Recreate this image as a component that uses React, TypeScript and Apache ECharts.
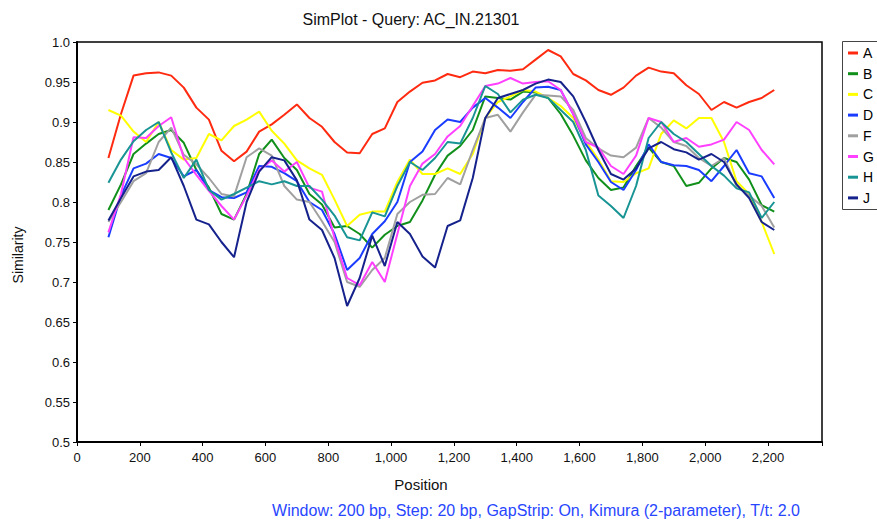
import React, { useEffect, useRef } from "react";
import * as echarts from "echarts";

// Window midpoints along the alignment (bp)
const positions = [
  100, 140, 180, 220, 260, 300, 340, 380, 420, 460,
  500, 540, 580, 620, 660, 700, 740, 780, 820, 860,
  900, 940, 980, 1020, 1060, 1100, 1140, 1180, 1220, 1260,
  1300, 1340, 1380, 1420, 1460, 1500, 1540, 1580, 1620, 1660,
  1700, 1740, 1780, 1820, 1860, 1900, 1940, 1980, 2020, 2060,
  2100, 2140, 2180, 2220,
];

const seriesNames = ["A", "B", "C", "D", "F", "G", "H", "J"];
const seriesColors = ["#ff2a10", "#10901a", "#ffff00", "#1a3cff", "#a0a0a0", "#ff40ff", "#189494", "#16228c"];

const simA = [
  0.855, 0.91, 0.958, 0.961, 0.962, 0.958, 0.943, 0.918, 0.903, 0.864,
  0.851, 0.863, 0.888, 0.897, 0.909, 0.922, 0.905, 0.894, 0.875, 0.862,
  0.861, 0.885, 0.892, 0.925, 0.938, 0.949, 0.952, 0.96, 0.956, 0.963,
  0.961, 0.965, 0.964, 0.966, 0.978, 0.99, 0.982, 0.96, 0.952, 0.94,
  0.934, 0.943, 0.958, 0.968, 0.963, 0.961, 0.946, 0.935, 0.915, 0.925,
  0.918, 0.925, 0.93, 0.94,
];
const simB = [
  0.79, 0.822, 0.86, 0.873, 0.885, 0.89, 0.874, 0.84, 0.818, 0.785,
  0.778, 0.81, 0.86, 0.878, 0.855, 0.84, 0.81, 0.797, 0.768, 0.77,
  0.76, 0.743, 0.759, 0.77, 0.775, 0.802, 0.834, 0.858, 0.87, 0.89,
  0.932, 0.93, 0.928, 0.938, 0.937, 0.93, 0.91, 0.883, 0.852, 0.83,
  0.815, 0.818, 0.845, 0.868, 0.85, 0.845, 0.82, 0.824, 0.842, 0.855,
  0.85, 0.828, 0.796, 0.788,
];
const simC = [
  0.915, 0.908, 0.888, 0.875, 0.9, 0.865, 0.853, 0.855, 0.885, 0.877,
  0.895, 0.903, 0.913, 0.889, 0.873, 0.852, 0.842, 0.834, 0.803, 0.77,
  0.784, 0.788, 0.788, 0.825, 0.853, 0.835, 0.835, 0.842, 0.835, 0.86,
  0.905, 0.925, 0.932, 0.94, 0.938, 0.93, 0.92, 0.905, 0.876, 0.853,
  0.826, 0.825, 0.836, 0.842, 0.885, 0.902, 0.892, 0.905, 0.905, 0.875,
  0.826, 0.81, 0.775, 0.735,
];
const simD = [
  0.756, 0.808, 0.842, 0.848, 0.86, 0.855, 0.832, 0.84, 0.815, 0.806,
  0.805, 0.812, 0.845, 0.844, 0.836, 0.826, 0.8, 0.79, 0.76, 0.715,
  0.73, 0.76, 0.776, 0.8, 0.85, 0.863, 0.89, 0.903, 0.9, 0.918,
  0.93, 0.918, 0.905, 0.925, 0.943, 0.944, 0.94, 0.91, 0.872, 0.85,
  0.825, 0.815, 0.84, 0.872, 0.85, 0.846, 0.845, 0.84, 0.826, 0.845,
  0.865, 0.836, 0.832, 0.805,
];
const simF = [
  0.775, 0.8, 0.826, 0.836, 0.875, 0.893, 0.859, 0.847, 0.83, 0.81,
  0.807, 0.856, 0.867, 0.858, 0.82, 0.803, 0.8, 0.776, 0.75, 0.7,
  0.694, 0.715, 0.73, 0.785, 0.8, 0.809, 0.81, 0.83, 0.822, 0.865,
  0.905, 0.909, 0.888, 0.912, 0.934, 0.933, 0.932, 0.915, 0.88, 0.867,
  0.858, 0.856, 0.868, 0.905, 0.893, 0.875, 0.87, 0.855, 0.845, 0.855,
  0.82, 0.808, 0.795, 0.768,
];
const simG = [
  0.762, 0.81, 0.881, 0.88, 0.895, 0.906, 0.855, 0.834, 0.814, 0.795,
  0.778, 0.808, 0.84, 0.852, 0.838, 0.85, 0.818, 0.813, 0.755, 0.705,
  0.696, 0.725, 0.7, 0.76, 0.82, 0.848, 0.86, 0.882, 0.895, 0.92,
  0.945, 0.948, 0.955, 0.948, 0.95, 0.951, 0.94, 0.91, 0.875, 0.868,
  0.845, 0.835, 0.858, 0.905, 0.9, 0.875, 0.88, 0.869, 0.872, 0.878,
  0.9, 0.89, 0.865, 0.847,
];
const simH = [
  0.824, 0.853, 0.876, 0.89, 0.9, 0.862, 0.83, 0.853, 0.815, 0.803,
  0.81, 0.818, 0.826, 0.822, 0.826, 0.82, 0.82, 0.803, 0.783, 0.756,
  0.752, 0.787, 0.782, 0.82, 0.85, 0.84, 0.855, 0.875, 0.873, 0.905,
  0.945, 0.935, 0.912, 0.928, 0.934, 0.93, 0.915, 0.9, 0.865, 0.808,
  0.795, 0.78, 0.82, 0.88, 0.9, 0.885, 0.875, 0.86, 0.845, 0.833,
  0.817, 0.812, 0.78, 0.8,
];
const simJ = [
  0.777, 0.805, 0.832, 0.838, 0.84, 0.856, 0.82, 0.778, 0.772, 0.75,
  0.731, 0.8, 0.838, 0.856, 0.852, 0.827, 0.778, 0.765, 0.73, 0.67,
  0.705, 0.758, 0.72, 0.775, 0.76, 0.732, 0.718, 0.77, 0.777, 0.83,
  0.905, 0.93, 0.935, 0.94, 0.948, 0.953, 0.95, 0.932, 0.9, 0.865,
  0.835, 0.828, 0.842, 0.867, 0.875, 0.866, 0.862, 0.853, 0.86, 0.85,
  0.822, 0.805, 0.775, 0.765,
];

const seriesValues = [simA, simB, simC, simD, simF, simG, simH, simJ];

const FONT = "'Liberation Sans', Arial, sans-serif";

function withThousands(v: number): string {
  return String(Math.round(v)).replace(/\B(?=(\d{3})+(?!\d))/g, ",");
}

export default function App() {
  const ref = useRef<HTMLDivElement>(null);

  useEffect(() => {
    if (!ref.current) return;
    const chart = echarts.init(ref.current, null, { renderer: "svg" });

    chart.setOption({
      animation: false,
      backgroundColor: "#ffffff",
      textStyle: { fontFamily: FONT },
      grid: {
        left: 77,
        top: 42,
        right: 55,
        bottom: 79,
        show: true,
        borderColor: "#000",
        borderWidth: 1.5,
        backgroundColor: "transparent",
      },
      xAxis: {
        type: "value",
        min: 0,
        max: 2372,
        interval: 200,
        axisLine: { show: true, onZero: false, lineStyle: { color: "#000", width: 2 } },
        axisTick: { show: true, length: 4, lineStyle: { color: "#000", width: 1 } },
        splitLine: { show: false },
        axisLabel: {
          color: "#111",
          fontSize: 13,
          fontFamily: FONT,
          margin: 9,
          formatter: (v: number) => (Math.round(v) % 200 === 0 ? withThousands(v) : ""),
        },
      },
      yAxis: {
        type: "value",
        min: 0.5,
        max: 1.0,
        interval: 0.05,
        axisLine: { show: true, onZero: false, lineStyle: { color: "#000", width: 2 } },
        axisTick: { show: true, length: 4, lineStyle: { color: "#000", width: 1 } },
        splitLine: { show: false },
        axisLabel: {
          color: "#111",
          fontSize: 13,
          fontFamily: FONT,
          margin: 7,
          formatter: (v: number) => {
            const r = Math.round(v * 100);
            return r % 10 === 0 ? (r / 100).toFixed(1) : (r / 100).toFixed(2);
          },
        },
      },
      legend: {
        orient: "vertical",
        left: 848,
        top: 46,
        padding: 0,
        itemWidth: 10,
        itemHeight: 3,
        itemGap: 6.7,
        icon: "rect",
        data: seriesNames,
        textStyle: { fontSize: 14, fontFamily: FONT, color: "#000", lineHeight: 14 },
      },
      series: seriesNames.map((name, i) => ({
        name,
        type: "line",
        data: positions.map((p, j) => [p, seriesValues[i][j]]),
        showSymbol: false,
        symbol: "none",
        lineStyle: { width: 2, color: seriesColors[i] },
        itemStyle: { color: seriesColors[i] },
      })),
      graphic: [
        {
          type: "text",
          x: 411,
          y: 19,
          style: {
            text: "SimPlot - Query: AC_IN.21301",
            font: `16px ${FONT}`,
            fill: "#111",
            align: "center",
            verticalAlign: "middle",
          },
        },
        {
          type: "text",
          x: 421,
          y: 484,
          style: {
            text: "Position",
            font: `15px ${FONT}`,
            fill: "#111",
            align: "center",
            verticalAlign: "middle",
          },
        },
        {
          type: "text",
          x: 18,
          y: 255,
          rotation: Math.PI / 2,
          style: {
            text: "Similarity",
            font: `14px ${FONT}`,
            fill: "#111",
            align: "center",
            verticalAlign: "middle",
          },
        },
        {
          type: "text",
          x: 536,
          y: 510,
          style: {
            text: "Window: 200 bp, Step: 20 bp, GapStrip: On, Kimura (2-parameter), T/t: 2.0",
            font: `16px ${FONT}`,
            fill: "#2846ff",
            align: "center",
            verticalAlign: "middle",
          },
        },
        {
          type: "rect",
          shape: { x: 842.5, y: 41.5, width: 60, height: 168 },
          style: { fill: "none", stroke: "#444", lineWidth: 1 },
        },
      ],
    });

    return () => chart.dispose();
  }, []);

  return (
    <div
      ref={ref}
      style={{ position: "absolute", left: 0, top: 0, width: 877, height: 521 }}
    />
  );
}
